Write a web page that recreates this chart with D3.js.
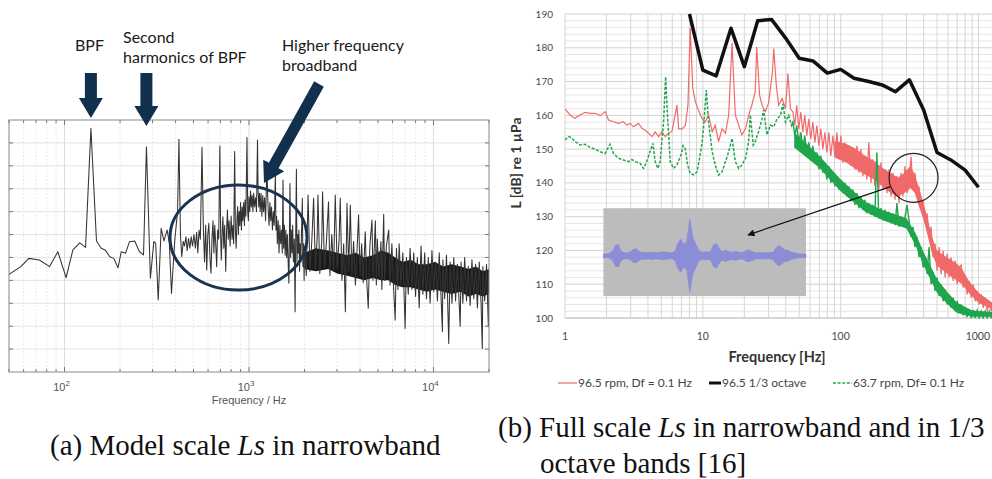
<!DOCTYPE html>
<html>
<head>
<meta charset="utf-8">
<script src="https://cdn.jsdelivr.net/npm/d3@7"></script>
<style>
  body { margin: 0; background: #fff; }
  svg { display: block; }
</style>
</head>
<body>
<svg id="fig" width="992" height="479"></svg>
<script>
// ---------------- data: (a) model scale narrowband spectrum ----------------
const bpf = 139;
const modelXTicks = [100, 1000, 10000];
const modelYTicks = [10, 20, 30, 40, 50, 60, 70, 80, 90, 100];

// [frequency Hz, level dB] (y axis carries no labels)
const modelSpectrum = [
  [50,42.6],[58,46],[64,49.6],[73,48.9],[83,46],[92,52.5],[102,41.2],[111,53.3],[121,56.4],[130,54.4],
  [139,106.4],[149,57.2],[158,54],[166,53.3],[176,50.3],[185,49.6],[195,45.5],[203,52.5],[214,51.8],[225,56.9],
  [240,57.2],[255,52.5],[268,51.1],[278,98.3],[292,40.9],[305,56.9],[312,56.2],[322,31.4],[334,62.7],[346,57.2],
  [360,62],[370,56.2],[380,34.3],[396,57.6],[410,70],[417,101.6],[425,60],[432,50.3],[440,57],[447,55],
  [455,59],[462,53],[470,58.3],[478,54],[486,59],[494,55],[503,60],[512,54],[520,61],[528,52],
  [536,62],[545,58],[556,98.1],[566,62],[574,48],[582,64],[590,44.5],[598,60],[606,64.9],[614,50],
  [622,43.1],[630,58],[638,66],[645,52],[652,64],[660,56],[668,46],[676,62],[685,58],[695,98.6],
  [702,60],[708,48.9],[716,62],[722,67.8],[730,54],[738,64],[748,44],[756,62],[764,70.7],[772,58],
  [780,66],[790,55],[800,68],[810,58],[818,64],[826,56],[836,96.2],[844,62],[852,54],[860,66],
  [868,72.2],[876,60],[884,70],[892,64],[900,74],[910,62],[918,72],[926,66],[935,74],[945,64],
  [952,75.1],[962,68],[975,102.4],[984,70],[992,66],[1000,76.5],[1010,70],[1020,79],[1030,72],[1040,77],
  [1050,70],[1060,78],[1072,72],[1085,76],[1098,70],[1112,101.3],[1120,79.4],[1130,72],[1140,78],[1150,70],
  [1162,78],[1175,68],[1188,77],[1200,70],[1215,76],[1230,66],[1251,91.8],[1260,78.7],[1272,70],[1285,64],
  [1298,74],[1312,66],[1325,72],[1340,62],[1355,70],[1370,64],[1390,86.7],[1400,62],[1412,68],[1425,56],
  [1440,66],[1455,52],[1470,64],[1485,56],[1500,62],[1515,52],[1529,83.8],[1540,54],[1555,64],[1570,51],
  [1585,62],[1600,50],[1615,60],[1630,48],[1645,38.8],[1668,82.3],[1680,50],[1695,62],[1710,52],[1725,64],
  [1740,48],[1760,58],[1778,26.3],[1790,56],[1807,88.5],[1820,48],[1835,60],[1850,52],[1865,62],[1880,44],
  [1895,56],[1910,48],[1925,60],[1946,75.8],[1960,46],[1975,56],[1990,40],
  [2000,55],[2045,42],[2090,77.3],[2140,44],[2190,57],[2240,75.8],[2290,45],[2340,58],[2365,77.3],[2420,43],
  [2480,57],[2505,78.7],[2565,46],[2625,56],[2698,74.3],[2745,42],[2810,60],[2875,44],[2934,77.3],[3010,45],
  [3080,58],[3123,75.8],[3190,40],[3260,56],[3330,26.3],[3398,73.6],[3470,44],[3543,72.9],[3610,42],[3690,57],
  [3775,38],[3860,55],[3926,68.5],[4000,42],[4080,56],[4160,39],[4268,61.2],[4340,41],[4430,27.8],[4520,55],
  [4642,66.3],[4700,40],[4842,66],[4900,38],[4960,58],[5075,41],[5190,57],[5250,36],[5373,68.8],[5430,40],
  [5555,55],[5717,62],[5815,38],[5950,56],[6085,36],[6200,22.7],[6300,54],[6420,36],[6515,56],[6665,38],
  [6820,52],[7020,19],[7135,50],[7300,34],[7470,54],[7640,36],[7815,52],[7995,33],[8180,50],[8370,28],
  [8560,55],[8760,34],[8960,52],[9165,32],[9375,50],[9590,30],[9810,53],[10040,35],[10270,48],[10505,31],
  [10745,52],[10990,33],[11180,17.6],[11245,49],[11500,32],[11765,51],[12100,12.5],[12310,48],[12595,30],[12885,50],
  [13180,31],[13480,47],[13960,20],[14110,48],[14430,30],[14765,50],[15100,31],[15450,46],[15805,29],[16165,49],
  [16540,32],[16920,47],[17305,28],[17705,48],[18110,30],[18400,10.3],[18525,46],[18950,31],[19390,47],[19835,20],
  [20000,40]
];
// where the trace is too dense to resolve, its solid core: [frequency, bottom, top]
const modelCore = [
  [2000,45,52],[2300,44,54],[2700,45,53],[3000,43,52],[3400,42,51],[3800,41,52],[4200,40,50],
  [4700,41,51],[5200,40,53],[5700,40,52],[6200,38,50],[6800,37,48],[7500,37,49],[8300,36,47],
  [9200,35,47],[10200,36,48],[11300,35,46],[12500,34,47],[14000,35,46],[15500,33,45],[17000,34,46],
  [18500,33,44],[20000,34,45]
];

// ---------------- data: (b) full scale ----------------
const fullXTicks = [1, 10, 100, 1000];
const fullYTicks = [100, 110, 120, 130, 140, 150, 160, 170, 180, 190];
const legendLabels = ["96.5 rpm, Df = 0.1 Hz", "96.5 1/3 octave", "63.7 rpm, Df= 0.1 Hz"];

// 1/3 octave band levels, 96.5 rpm
const octaveFreq = [8, 10, 12.5, 16, 20, 25, 31.5, 40, 50, 63, 80, 100, 125, 160, 200, 250, 315, 400, 500, 630, 800, 1000];
const octaveLevel = [190, 173.4, 171.7, 185.8, 174.4, 188, 188.4, 182.8, 176.9, 176.1, 172.5, 173.6, 171, 170, 169, 167, 170.5, 161.6, 149, 146.8, 143.8, 138.7];

// narrowband, below 45 Hz: [frequency, level]
const redLow = [
  [1,161.9],[1.087,160.1],[1.18,159.1],[1.285,160.1],[1.4,160.9],[1.52,160.6],[1.65,160.6],[1.8,159.9],[1.955,161.1],[2.07,158.6],
  [2.25,158.1],[2.44,157.6],[2.65,158.1],[2.81,157.1],[2.97,157.6],[3.14,156.6],[3.41,157.6],[3.61,156.2],[3.82,155.6],[4.04,154.7],
  [4.28,153.7],[4.51,155.1],[4.77,153.7],[5.05,155.1],[5.34,153.7],[5.65,154.7],[5.98,155.3],[6.13,157.6],[6.49,163.1],[6.68,156],
  [7.07,156],[7.47,157],[7.8,163],[8.1,185.8],[8.46,168],[8.83,164],[9.3,161.5],[9.85,159.1],[10.4,158.1],[11,160.1],
  [11.7,155.2],[12.3,157.1],[13,152.2],[13.8,156],[14.6,154.7],[15.4,160.1],[16.3,181.5],[17.2,160.1],[18.2,157.1],[19.2,154.2],
  [20.4,156],[21.5,160],[22.7,163.1],[24,167],[24.6,180.3],[25.8,166],[26.9,163],[28.4,161.1],[30,163.7],[32,172.9],
  [32.7,179.8],[34.1,169],[35.5,163],[37.6,165],[39.8,162],[41.4,172.4],[43.2,162]
];
const greenLow = [
  [1,152.7],[1.06,153.7],[1.12,153.4],[1.18,152.2],[1.29,151.2],[1.4,151.4],[1.52,150.5],[1.65,150],[1.8,149.2],[1.95,148.7],
  [2.12,151.4],[2.25,148.7],[2.44,147.3],[2.65,146.8],[2.89,146.3],[3.06,146.9],[3.23,146.3],[3.51,145.8],[3.71,144.3],[3.88,145.9],
  [4.34,151.7],[4.51,146.3],[4.72,144.3],[4.9,146.3],[5.19,158.1],[5.37,171.4],[5.54,160],[5.8,146.3],[6.13,144.3],[6.49,145.3],
  [6.96,148.3],[7.2,151],[7.47,150],[7.75,145.3],[8.1,142.8],[8.6,142.4],[9.08,143.3],[9.6,148.7],[9.86,151.7],[10.1,156],
  [10.6,167.5],[11,158],[11.7,149.2],[12.3,145.3],[13,142.3],[13.8,143.3],[14.6,146.3],[15.4,149.2],[16.3,153.2],[17.2,146.3],
  [18.2,144.3],[19.2,145.3],[20.4,147.3],[21.5,152.2],[22.1,160.1],[23.2,151.2],[24,152.2],[25.4,155.2],[26.9,159],[27.6,161.6],
  [29.2,154.2],[30.9,157.1],[32.7,156.6],[34.6,159],[36.6,160],[38.1,163.4],[39.8,158],[42,160],[44,157]
];

// narrowband, 45 Hz and up (shared frequency list, band read as alternating top/bottom)
const fullHiFreq = [
  45, 46.5, 48, 49.7, 51.4, 53.1, 54.9, 56.8, 58.7, 60.7,
  62.8, 65, 67.2, 69.5, 71.8, 74.3, 76.8, 79.4, 82.1, 84.9,
  87.8, 90.8, 93.9, 97.1, 100.4, 103.8, 107.3, 111, 114.8, 118.7,
  122.7, 126.9, 131.2, 135.7, 140.3, 145, 150, 155, 160, 166,
  171, 177, 183, 189, 196, 203, 210, 217, 224, 232,
  240, 248, 256, 265, 274, 283, 293, 303, 313, 324,
  335, 346, 358, 370, 383, 396, 410, 424, 438, 453,
  468, 484, 501, 518, 536, 554, 573, 592, 612, 633,
  655, 677, 700, 724, 749, 774, 800, 828, 856, 885,
  915, 946, 978, 1012, 1046, 1082, 1118, 1157, 1196, 1237,
  1265
];
const fullHiRed = [
  161, 157, 163, 156, 161, 155, 160, 154, 159, 153,
  158, 152, 157, 151, 156, 150, 155, 149, 155, 148,
  154, 148, 155, 147, 154, 146, 152, 146, 151, 145,
  150, 144, 151, 143, 150, 142, 148, 141, 152, 140,
  147, 139, 146, 138, 146, 138, 144, 137, 144, 136,
  143, 135, 142, 134, 143, 136, 145, 137, 139, 147.8,
  138, 143, 136, 139, 133, 135, 128, 131, 124, 127,
  118, 122, 114, 121, 113, 120, 112, 119, 112, 118,
  111, 117, 110, 115, 115.7, 109, 112, 107, 111, 106,
  110, 105, 108, 104, 107, 103, 106, 102, 105, 102,
  104
];
const fullHiGreen = [
  158, 154, 157, 152, 155, 150, 154, 149, 152, 147,
  151, 146, 149, 144, 148, 143, 146, 141, 145, 140,
  143, 139, 142, 138, 141, 137, 140, 136, 139, 134.5,
  138, 133.5, 137, 132.5, 136, 132, 135, 131, 134, 130.5,
  133.5, 130, 149, 129.5, 132.5, 129, 132, 128.5, 131.5, 128,
  131, 127.5, 134, 127, 130, 127, 130, 133.5, 129, 124,
  127, 121, 124, 118, 121, 115, 118, 113, 121, 110,
  113.5, 108, 112, 106.5, 110, 105, 108.5, 104, 107, 103,
  106, 102, 105, 101.5, 104, 100.8, 103, 100.3, 102.5, 100,
  102.4, 100, 102.3, 100, 102, 100, 102, 100, 102, 100,
  102
];
// solid cores of the dense narrowband traces: [frequency, bottom, top]
const redCore = [
  [90,147.5,152.5],[110,146,151.5],[130,144,150],[150,142.5,148],[175,141,146.5],[200,139,144.5],
  [230,137,143],[260,136,141.5],[290,137,143],[320,138.5,145],[345,137,142.5],[370,133,138.5],
  [400,129,134],[430,124,129],[460,119,124],[500,115.5,120],[560,114,118.5],[620,112.5,117.5],
  [700,111,116],[760,110,114.5],[850,107.5,111],[1000,104.5,107.5],[1265,102.5,104.5]
];
const greenCore = [
  [46,150.5,155],[70,144.5,148],[100,137.5,141],[150,131.5,134.5],[200,129,132],[300,126.5,129.5],
  [350,121.5,125],[400,115.5,119.5],[500,107.5,111.5],[600,104,107.5],[700,101.5,104.5],
  [900,100.4,102.2],[1265,100.4,101.8]
];

// inset time signal, relative amplitude per sample
const waveAmp = [
  0.05, 0.05, 0.06, 0.12, 0.28, 0.31, 0.12, 0.08, 0.08, 0.1,
  0.18, 0.19, 0.12, 0.09, 0.1, 0.08, 0.1, 0.09, 0.08, 0.1,
  0.11, 0.1, 0.08, 0.08, 0.12, 0.35, 0.45, 0.3, 0.4, 1.0,
  0.5, 0.32, 0.15, 0.1, 0.11, 0.1, 0.12, 0.3, 0.33, 0.18,
  0.12, 0.15, 0.12, 0.1, 0.12, 0.11, 0.09, 0.1, 0.15, 0.16,
  0.12, 0.09, 0.08, 0.09, 0.08, 0.08, 0.08, 0.1, 0.22, 0.28,
  0.22, 0.15, 0.15, 0.1, 0.08, 0.06, 0.05, 0.05, 0.04
];

// ---------------- drawing ----------------
const svg = d3.select("#fig");
const navy = "#10304d";
const isDecade = (d) => Math.abs(Math.log10(d) - Math.round(Math.log10(d))) < 1e-9;

const defs = svg.append("defs");
defs.append("clipPath").attr("id", "clipA")
  .append("rect").attr("x", 9).attr("y", 120).attr("width", 480).attr("height", 252);
defs.append("clipPath").attr("id", "clipB")
  .append("rect").attr("x", 565).attr("y", 8).attr("width", 430).attr("height", 311);
defs.append("marker").attr("id", "head")
  .attr("viewBox", "0 0 10 10").attr("refX", 9).attr("refY", 5)
  .attr("markerWidth", 9).attr("markerHeight", 7).attr("orient", "auto")
  .attr("markerUnits", "userSpaceOnUse")
  .append("path").attr("d", "M0,0L10,5L0,10Z").attr("fill", "#111");

// ===== panel (a) =====
const xA = d3.scaleLog().domain([50, 20000]).range([9, 489]);
const yA = d3.scaleLinear().domain([0, 110]).range([372, 120]);
const gA = svg.append("g");
const logTicksA = xA.ticks();

gA.append("g").selectAll("line").data(modelYTicks).join("line")
  .attr("x1", 9).attr("x2", 489)
  .attr("y1", (d) => yA(d)).attr("y2", (d) => yA(d))
  .attr("stroke", "#e3e3e3");
gA.append("g").selectAll("line").data(logTicksA).join("line")
  .attr("x1", (d) => xA(d)).attr("x2", (d) => xA(d))
  .attr("y1", 120).attr("y2", 372)
  .attr("stroke", (d) => (isDecade(d) ? "#dcdcdc" : "#e4e4e4"))
  .attr("stroke-dasharray", (d) => (isDecade(d) ? null : "1.5,2"));

// inward ticks
[120, 372].forEach((yEdge) => {
  const dir = yEdge === 120 ? 1 : -1;
  gA.append("g").selectAll("line").data(logTicksA).join("line")
    .attr("x1", (d) => xA(d)).attr("x2", (d) => xA(d))
    .attr("y1", yEdge).attr("y2", (d) => yEdge + dir * (isDecade(d) ? 5 : 3))
    .attr("stroke", "#777");
});
[9, 489].forEach((xEdge) => {
  const dir = xEdge === 9 ? 1 : -1;
  gA.append("g").selectAll("line").data(modelYTicks).join("line")
    .attr("x1", xEdge).attr("x2", xEdge + dir * 4)
    .attr("y1", (d) => yA(d)).attr("y2", (d) => yA(d))
    .attr("stroke", "#777");
});

const plotA = gA.append("g").attr("clip-path", "url(#clipA)");
plotA.append("path")
  .datum(modelCore)
  .attr("fill", "#1a1a1a")
  .attr("d", d3.area().x((d) => xA(d[0])).y0((d) => yA(d[1])).y1((d) => yA(d[2])));
plotA.append("path")
  .datum(modelSpectrum)
  .attr("fill", "none")
  .attr("stroke", "#333")
  .attr("stroke-width", 1.05)
  .attr("stroke-linejoin", "round")
  .attr("d", d3.line().x((d) => xA(d[0])).y((d) => yA(d[1])));

gA.append("rect")
  .attr("x", 9).attr("y", 120).attr("width", 480).attr("height", 252)
  .attr("fill", "none").attr("stroke", "#8a8a8a");

const tickLabA = gA.append("g").selectAll("text").data(modelXTicks).join("text")
  .attr("x", (d) => xA(d) - 3).attr("y", 391)
  .attr("text-anchor", "middle")
  .attr("font-family", "Liberation Sans, Arial, sans-serif")
  .attr("font-size", 11).attr("fill", "#555");
tickLabA.append("tspan").text("10");
tickLabA.append("tspan").attr("dy", -5).attr("font-size", 8)
  .text((d) => String(Math.round(Math.log10(d))));

gA.append("text")
  .attr("x", xA(1000)).attr("y", 404)
  .attr("text-anchor", "middle")
  .attr("font-family", "Liberation Sans, Arial, sans-serif")
  .attr("font-size", 11).attr("fill", "#555")
  .text("Frequency / Hz");

// annotations
function blockArrow(x1, y1, x2, y2, shaft, headW, headL) {
  const dx = x2 - x1, dy = y2 - y1, len = Math.hypot(dx, dy);
  const ux = dx / len, uy = dy / len, px = -uy, py = ux;
  const bx = x2 - ux * headL, by = y2 - uy * headL;
  const pts = [
    [x1 + px * shaft / 2, y1 + py * shaft / 2],
    [bx + px * shaft / 2, by + py * shaft / 2],
    [bx + px * headW / 2, by + py * headW / 2],
    [x2, y2],
    [bx - px * headW / 2, by - py * headW / 2],
    [bx - px * shaft / 2, by - py * shaft / 2],
    [x1 - px * shaft / 2, y1 - py * shaft / 2],
  ];
  return "M" + pts.map((p) => p[0].toFixed(1) + "," + p[1].toFixed(1)).join("L") + "Z";
}

gA.append("path").attr("fill", navy)
  .attr("d", blockArrow(xA(bpf), 73, xA(bpf), 118, 12, 24, 20));
gA.append("path").attr("fill", navy)
  .attr("d", blockArrow(xA(2 * bpf), 73, xA(2 * bpf), 126, 12, 24, 20));
gA.append("path").attr("fill", navy)
  .attr("d", blockArrow(319, 84, 264, 183, 11, 24, 20));

gA.append("ellipse")
  .attr("cx", xA(877)).attr("cy", yA(58.7))
  .attr("rx", 68.5).attr("ry", 52.5)
  .attr("fill", "none").attr("stroke", "#1a3350").attr("stroke-width", 3);

const annot = [
  { x: 75, y: 51, lines: ["BPF"] },
  { x: 123, y: 43, lines: ["Second", "harmonics of BPF"] },
  { x: 282, y: 51, lines: ["Higher frequency", "broadband"] },
];
annot.forEach((a) => {
  const t = gA.append("text")
    .attr("font-family", "Lato, sans-serif").attr("font-size", 16).attr("fill", "#1a1a1a");
  a.lines.forEach((line, i) => {
    t.append("tspan").attr("x", a.x).attr("y", a.y + i * 20).text(line);
  });
});

// ===== panel (b) =====
const xB = d3.scaleLog().domain([1, 1000]).range([565, 978.5]);
const yB = d3.scaleLinear().domain([100, 190]).range([318, 14]);
const gB = svg.append("g");

const minorY = d3.range(100, 191, 2);
gB.append("g").selectAll("line").data(minorY).join("line")
  .attr("x1", 565).attr("x2", 992)
  .attr("y1", (d) => yB(d)).attr("y2", (d) => yB(d))
  .attr("stroke", (d) => (d % 10 === 0 ? "#d2d2d2" : "#e6e6e6"));

const vTicksB = xB.ticks().filter((d) => d <= 1000);
gB.append("g").selectAll("line").data(vTicksB).join("line")
  .attr("x1", (d) => xB(d)).attr("x2", (d) => xB(d))
  .attr("y1", 14).attr("y2", 318)
  .attr("stroke", "#d6d6d6");
gB.append("line").attr("x1", 565).attr("x2", 992)
  .attr("y1", yB(100)).attr("y2", yB(100)).attr("stroke", "#c4c4c4");

gB.append("g").selectAll("text").data(fullYTicks).join("text")
  .attr("x", 553).attr("y", (d) => yB(d) + 3.5)
  .attr("text-anchor", "end")
  .attr("font-family", "Lato, sans-serif").attr("font-size", 10).attr("fill", "#4a4a4a")
  .text((d) => d);
gB.append("g").selectAll("text").data(fullXTicks).join("text")
  .attr("x", (d) => (d === 1000 ? 990 : xB(d))).attr("y", 340)
  .attr("text-anchor", (d) => (d === 1000 ? "end" : "middle"))
  .attr("font-family", "Lato, sans-serif").attr("font-size", 10.5).attr("fill", "#4a4a4a")
  .text((d) => d);

gB.append("text")
  .attr("x", 777).attr("y", 362)
  .attr("text-anchor", "middle")
  .attr("font-family", "Lato, sans-serif").attr("font-size", 14.5).attr("font-weight", "bold")
  .attr("fill", "#333")
  .text("Frequency [Hz]");
gB.append("text")
  .attr("transform", "translate(521,163) rotate(-90)")
  .attr("text-anchor", "middle")
  .attr("font-family", "Lato, sans-serif").attr("font-size", 14).attr("font-weight", "bold")
  .attr("fill", "#333")
  .text("L [dB] re 1 µPa");

const lineB = d3.line().x((d) => xB(d[0])).y((d) => yB(d[1]));
const coreB = d3.area().x((d) => xB(d[0])).y0((d) => yB(d[1])).y1((d) => yB(d[2]));
const redSeries = redLow.concat(fullHiFreq.map((f, i) => [f, fullHiRed[i]]));
const greenSeries = greenLow.concat(fullHiFreq.map((f, i) => [f, fullHiGreen[i]]));
const octaveSeries = octaveFreq.map((f, i) => [f, octaveLevel[i]]);
const redColor = "#f06a6a";
const greenColor = "#1fa64c";

const plotB = gB.append("g").attr("clip-path", "url(#clipB)");
plotB.append("path").datum(redCore).attr("fill", redColor).attr("d", coreB);
plotB.append("path").datum(redSeries)
  .attr("fill", "none").attr("stroke", redColor).attr("stroke-width", 1.2)
  .attr("d", lineB);
plotB.append("path").datum(greenCore).attr("fill", greenColor).attr("d", coreB);
// green: dashed where the trace is sparse, solid where it is dense
plotB.append("path").datum(greenSeries.filter((d) => d[0] <= 45))
  .attr("fill", "none").attr("stroke", greenColor).attr("stroke-width", 1.5)
  .attr("stroke-dasharray", "3,1.6")
  .attr("d", lineB);
plotB.append("path").datum(greenSeries.filter((d) => d[0] >= 44))
  .attr("fill", "none").attr("stroke", greenColor).attr("stroke-width", 1.4)
  .attr("d", lineB);
plotB.append("path").datum(octaveSeries)
  .attr("fill", "none").attr("stroke", "#111").attr("stroke-width", 3.5)
  .attr("stroke-linejoin", "round")
  .attr("d", lineB);

// inset with time signal
const inset = { f0: 1.9, f1: 56, l0: 106.5, l1: 132.5 };
gB.append("rect")
  .attr("x", xB(inset.f0)).attr("y", yB(inset.l1))
  .attr("width", xB(inset.f1) - xB(inset.f0)).attr("height", yB(inset.l0) - yB(inset.l1))
  .attr("fill", "#bcbcbc");
const xW = d3.scaleLinear().domain([0, waveAmp.length - 1]).range([xB(inset.f0), xB(inset.f1)]);
const yW = d3.scaleLinear().domain([-1.1, 1.3]).range([yB(inset.l0), yB(inset.l1)]);
gB.append("path").datum(waveAmp)
  .attr("fill", "#8b8dd6").attr("stroke", "#8b8dd6").attr("stroke-width", 0.8)
  .attr("d", d3.area().x((d, i) => xW(i)).y0((d) => yW(-d)).y1((d) => yW(d)));

gB.append("circle")
  .attr("cx", xB(338)).attr("cy", yB(141.5)).attr("r", 24.5)
  .attr("fill", "none").attr("stroke", "#222").attr("stroke-width", 1.2);
gB.append("line")
  .attr("x1", xB(228)).attr("y1", yB(138.8))
  .attr("x2", xB(21.3)).attr("y2", yB(124.6))
  .attr("stroke", "#111").attr("stroke-width", 1.2)
  .attr("marker-end", "url(#head)");

// legend
const legendX = [558, 709, 833];
const legendStyle = [
  { stroke: redColor, width: 1.2, dash: null, len: 19 },
  { stroke: "#111", width: 3, dash: null, len: 12 },
  { stroke: greenColor, width: 1.3, dash: "3,1.6", len: 19 },
];
legendLabels.forEach((label, i) => {
  const s = legendStyle[i];
  gB.append("line")
    .attr("x1", legendX[i]).attr("x2", legendX[i] + s.len)
    .attr("y1", 383).attr("y2", 383)
    .attr("stroke", s.stroke).attr("stroke-width", s.width)
    .attr("stroke-dasharray", s.dash);
  gB.append("text")
    .attr("x", legendX[i] + s.len + 1).attr("y", 387)
    .attr("font-family", "Lato, sans-serif").attr("font-size", 12).attr("fill", "#444")
    .text(label);
});

// ===== captions =====
const capFont = "Liberation Serif, Times New Roman, serif";
const capA = svg.append("text").attr("x", 50).attr("y", 455)
  .attr("font-family", capFont).attr("font-size", 29).attr("fill", "#111");
capA.append("tspan").text("(a) Model scale ");
capA.append("tspan").attr("font-style", "italic").text("Ls");
capA.append("tspan").text(" in narrowband");

const capB = svg.append("text").attr("x", 498).attr("y", 437)
  .attr("font-family", capFont).attr("font-size", 29).attr("fill", "#111");
capB.append("tspan").text("(b) Full scale ");
capB.append("tspan").attr("font-style", "italic").text("Ls");
capB.append("tspan").text(" in narrowband and in 1/3");
svg.append("text").attr("x", 540).attr("y", 473)
  .attr("font-family", capFont).attr("font-size", 29).attr("fill", "#111")
  .text("octave bands [16]");
</script>
</body>
</html>
